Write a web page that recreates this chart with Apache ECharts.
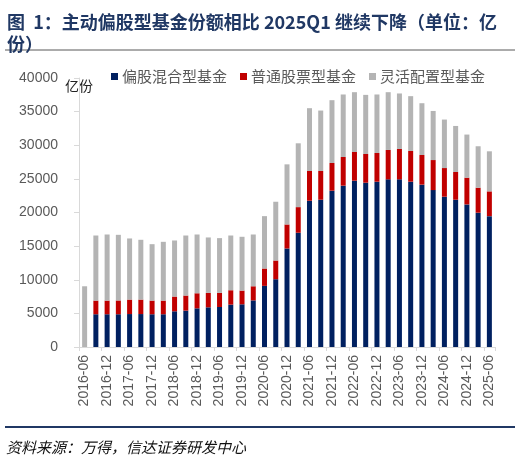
<!DOCTYPE html>
<html><head><meta charset="utf-8">
<script src="https://cdn.jsdelivr.net/npm/echarts@6/dist/echarts.min.js"></script>
<style>html,body{margin:0;padding:0;background:#fff}#c{width:520px;height:457px}</style>
</head><body><div id="c"></div>
<script>
const categories = ['2016-06','2016-09','2016-12','2017-03','2017-06','2017-09','2017-12','2018-03','2018-06','2018-09','2018-12','2019-03','2019-06','2019-09','2019-12','2020-03','2020-06','2020-09','2020-12','2021-03','2021-06','2021-09','2021-12','2022-03','2022-06','2022-09','2022-12','2023-03','2023-06','2023-09','2023-12','2024-03','2024-06','2024-09','2024-12','2025-03','2025-06'];
// stack tops
const mixedEquity = [0,4870,4870,4870,4900,4900,4870,4870,5310,5410,5750,5900,5950,6300,6350,6930,9090,10080,14650,16990,21750,21900,23240,23990,24730,24430,24580,24930,24930,24580,24140,23330,22350,21900,21200,19970,19460];
const stockTop = [0,6900,6900,6920,7050,7050,6900,6900,7500,7650,7990,8040,8040,8440,8390,9030,11670,12860,18220,20800,26170,26170,27360,28250,29000,28700,28850,29300,29450,29150,28550,27800,26610,26020,25180,23690,23140];
const totalTop = [9030,16580,16730,16680,16140,15940,15290,15640,15840,16580,16730,16290,16190,16580,16390,16730,19460,21600,27160,30290,35510,35160,36700,37550,37890,37490,37550,37890,37700,37300,36250,35100,33820,32870,31590,29850,29100];
const commonStock = stockTop.map((v,i)=> v===0 ? 0 : v - mixedEquity[i]);
const flexible = totalTop.map((v,i)=> v - (stockTop[i]===0 ? 0 : stockTop[i]));
const seriesNames = ['偏股混合型基金','普通股票型基金','灵活配置型基金'];
const yTicks = {min:0, max:40000, interval:5000};

const chart = echarts.init(document.getElementById('c'));
const cjk = '"Noto Sans CJK SC", "Liberation Sans", sans-serif';
chart.setOption({
  animation:false,
  backgroundColor:'#fff',
  title:{
    text:'图  1：主动偏股型基金份额相比 2025Q1 继续下降（单位：亿\n份）',
    left:2, top:6,
    textStyle:{fontFamily:cjk, fontSize:18, fontWeight:'bold', color:'#203864', lineHeight:22}
  },
  legend:{
    left:106, top:64,
    icon:'rect', itemWidth:7, itemHeight:7, itemGap:13,
    textStyle:{fontFamily:cjk, fontSize:15, color:'#595959', padding:[0,0,0,-1]},
    data:seriesNames
  },
  grid:{left:79, right:25, top:78, bottom:110, containLabel:false},
  xAxis:{
    type:'category', data:categories,
    axisLine:{lineStyle:{color:'#d9d9d9'}},
    axisTick:{show:true, length:4, lineStyle:{color:'#d9d9d9'}},
    axisLabel:{interval:1, rotate:90, fontFamily:'"Liberation Sans", sans-serif', fontSize:14, color:'#595959', margin:8}
  },
  yAxis:{
    type:'value', min:yTicks.min, max:yTicks.max, interval:yTicks.interval,
    name:'亿份', nameLocation:'end', nameGap:-8,
    nameTextStyle:{fontFamily:cjk, fontSize:14, color:'#222', align:'center', verticalAlign:'middle'},
    axisLine:{show:true, lineStyle:{color:'#d9d9d9'}},
    axisTick:{show:true, length:5, lineStyle:{color:'#d9d9d9'}},
    splitLine:{show:false},
    axisLabel:{fontFamily:'"Liberation Sans", sans-serif', fontSize:14, color:'#595959', margin:21, formatter:v=>String(v)}
  },
  graphic:[
    {type:'line', shape:{x1:5,y1:50,x2:515,y2:50}, style:{stroke:'#595959', lineWidth:1}},
    {type:'line', shape:{x1:5,y1:427,x2:515,y2:427}, style:{stroke:'#203864', lineWidth:2}},
    {type:'text', left:6, top:440, style:{text:'资料来源：万得，信达证券研发中心', fontFamily:cjk, fontSize:15, fontStyle:'italic', fill:'#111'}}
  ],
  series:[
    {name:seriesNames[0], type:'bar', stack:'s', barWidth:5, data:mixedEquity, itemStyle:{color:'#002060'}},
    {name:seriesNames[1], type:'bar', stack:'s', barWidth:5, data:commonStock, itemStyle:{color:'#C00000'}},
    {name:seriesNames[2], type:'bar', stack:'s', barWidth:5, data:flexible, itemStyle:{color:'#B4B4B4'}}
  ]
});
</script></body></html>
